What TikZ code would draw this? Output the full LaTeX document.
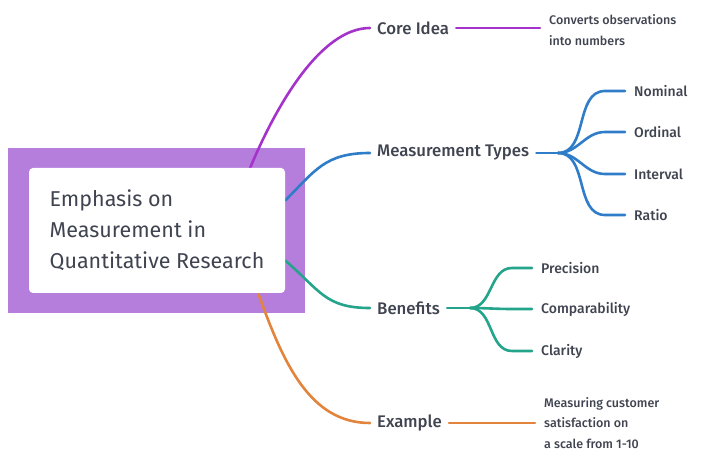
\documentclass[tikz,border=0pt]{standalone}
\usepackage{fontspec}
\setmainfont{Fira Sans}[UprightFont={* Medium}]
\newfontfamily\rootfont{Fira Sans}
\usetikzlibrary{backgrounds, calc, positioning}
\definecolor{mapink}{HTML}{3F4450}
\definecolor{mapframe}{HTML}{B57EDC}
\definecolor{mapcore}{HTML}{A632CC}
\definecolor{maptypes}{HTML}{2F7DC8}
\definecolor{mapbenefit}{HTML}{23A48B}
\definecolor{mapexample}{HTML}{E3843C}
\tikzset{
  rootbox/.style={
    fill=white,
    rounded corners=4pt,
    align=left,
    minimum width=256pt,
    minimum height=125pt,
    text=mapink,
    font=\rootfont\fontsize{21.5}{31}\selectfont
  },
  branchlabel/.style={
    anchor=west,
    inner xsep=7pt,
    inner ysep=2pt,
    text=mapink,
    font=\fontsize{16.8}{18}\selectfont
  },
  leaflabel/.style={
    anchor=west,
    inner xsep=9pt,
    inner ysep=2pt,
    text=mapink,
    font=\fontsize{14}{18}\selectfont
  },
  notelabel/.style={
    anchor=west,
    inner xsep=9pt,
    inner ysep=2pt,
    align=left,
    text=mapink,
    font=\fontsize{12.5}{20.5}\selectfont
  },
  maplink/.style={
    line width=2.6pt,
    line cap=round
  }
}

\begin{document}
\begin{tikzpicture}[x=1pt,y=-1pt]
\useasboundingbox (0,0) rectangle (720,462);

\node[rootbox] (root) at (157,230.5)
  {Emphasis on\\Measurement in\\Quantitative Research};

\node[branchlabel] (core) at (370,28) {Core Idea};
\node[notelabel] (corenote) at (540,30)
  {Converts observations\\into numbers};

\node[branchlabel] (types) at (370,153) {Measurement Types};
\coordinate (typehub) at (558,153);
\node[leaflabel] (nominal) at (625,91) {Nominal};
\node[leaflabel] (ordinal) at (625,132) {Ordinal};
\node[leaflabel] (interval) at (625,174) {Interval};
\node[leaflabel] (ratio) at (625,215) {Ratio};

\node[branchlabel] (benefits) at (370,308) {Benefits};
\coordinate (benefithub) at (470,308);
\node[leaflabel] (precision) at (532,268) {Precision};
\node[leaflabel] (compare) at (532,309) {Comparability};
\node[leaflabel] (clarity) at (532,351) {Clarity};

\node[branchlabel] (example) at (370,423) {Example};
\node[notelabel] (examplenote) at (535,423)
  {Measuring customer\\satisfaction on\\a scale from 1-10};

% core idea
\draw[maplink, mapcore] (core.east) -- (core.east -| corenote.west);

% measurement types
\draw[maplink, maptypes] (types.east) -- (typehub);
\foreach \leaf in {nominal, ordinal, interval, ratio}
  \draw[maplink, maptypes] (typehub) to[out=0, in=180]
    ([xshift=-20pt]\leaf.west) -- (\leaf.west);

% benefits
\draw[maplink, mapbenefit] (benefits.east) -- (benefithub);
\foreach \leaf in {precision, compare, clarity}
  \draw[maplink, mapbenefit] (benefithub) to[out=0, in=180]
    ([xshift=-20pt]\leaf.west) -- (\leaf.west);

% example
\draw[maplink, mapexample] (example.east) -- (example.east -| examplenote.west);

\begin{scope}[on background layer]
  \fill[mapframe]
    ($(root.south west)+(-21,20)$) rectangle ($(root.north east)+(20,-20)$);
  \draw[maplink, mapcore] ([xshift=-35pt]root.north east)
    .. controls +(25,-60) and +(-50,0) .. (core.west);
  \draw[maplink, maptypes] ([yshift=30pt]root.east)
    .. controls +(30,-30) and +(-45,0) .. (types.west);
  \draw[maplink, mapbenefit] ([yshift=-30pt]root.east)
    .. controls +(35,30) and +(-45,0) .. (benefits.west);
  \draw[maplink, mapexample] ([xshift=-27pt]root.south east)
    .. controls +(25,70) and +(-60,0) .. (example.west);
\end{scope}
\end{tikzpicture}
\end{document}
